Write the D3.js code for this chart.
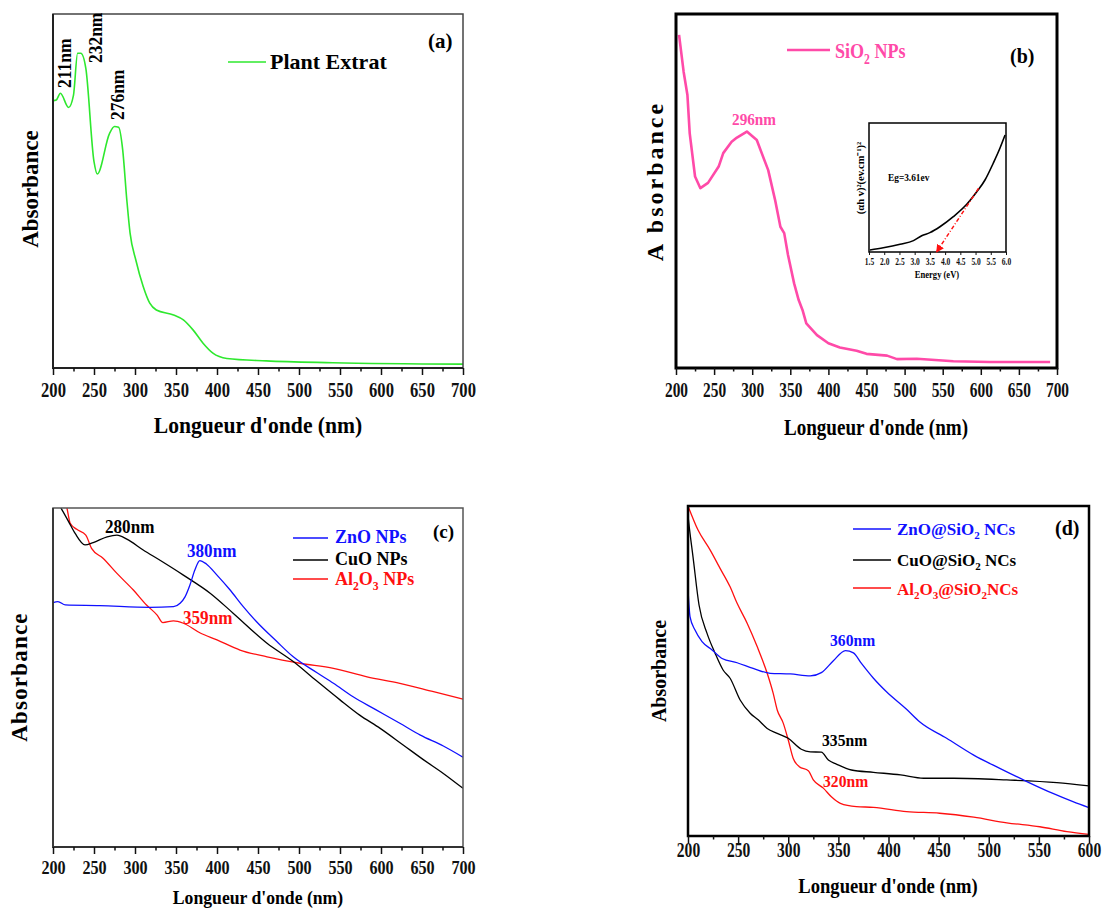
<!DOCTYPE html>
<html><head><meta charset="utf-8">
<script src="https://cdn.jsdelivr.net/npm/d3@7"></script>
<style>body{margin:0;background:#fff}</style>
</head><body>
<svg id="chart" width="1106" height="909"></svg>
<script>
// ---------------- DATA ----------------
const ticks700 = [200,250,300,350,400,450,500,550,600,650,700];
const ticks600 = [200,250,300,350,400,450,500,550,600];
const insetTicks = [1.5,2.0,2.5,3.0,3.5,4.0,4.5,5.0,5.5,6.0];

// (a) Plant extract
const plantNm  = [200,204,209,219,225,230,234,240,250,254,269,275,280,285,290,294,301,310,318,326,347,359,371,383,395,412,460,541,700];
const plantAbs = [0.755,0.757,0.776,0.736,0.771,0.889,0.889,0.847,0.583,0.548,0.663,0.682,0.680,0.616,0.475,0.381,0.305,0.230,0.183,0.164,0.150,0.136,0.107,0.070,0.042,0.027,0.020,0.015,0.011];
const plantPeaks = ["211nm","232nm","276nm"];

// (b) SiO2 NPs
const sio2Nm  = [204,210,215,218,225,232,242,256,262,273,280,293,306,321,330,337,342,347,355,361,366,371,385,400,415,437,450,477,490,516,564,612,691];
const sio2Abs = [0.941,0.837,0.771,0.663,0.541,0.508,0.523,0.569,0.607,0.639,0.651,0.668,0.644,0.559,0.475,0.399,0.381,0.319,0.239,0.192,0.164,0.126,0.093,0.070,0.058,0.049,0.040,0.035,0.025,0.026,0.019,0.017,0.017];
// inset Tauc plot
const insetE = [1.53,1.97,2.52,2.96,3.23,3.50,3.83,4.27,4.71,5.04,5.31,5.58,5.80,5.97];
const insetY = [0.016,0.033,0.060,0.088,0.126,0.150,0.196,0.274,0.370,0.467,0.558,0.688,0.804,0.907];
const tangentE = [5.10,3.72];
const tangentY = [0.494,0.0];

// (c) NPs
const znoNm  = [200,206,215,257,318,347,355,361,367,373,379,387,400,416,432,448,473,493,522,542,566,593,623,648,676,700];
const znoAbs = [0.721,0.724,0.714,0.712,0.707,0.709,0.719,0.738,0.773,0.817,0.845,0.835,0.802,0.758,0.709,0.665,0.606,0.561,0.514,0.483,0.443,0.406,0.365,0.330,0.298,0.265];
const cuoNm  = [205,210,219,227,239,249,266,278,290,310,331,359,392,420,461,493,521,550,574,599,627,652,676,700];
const cuoAbs = [1.02,0.999,0.960,0.925,0.891,0.898,0.915,0.920,0.908,0.876,0.845,0.802,0.748,0.689,0.601,0.547,0.491,0.434,0.389,0.350,0.301,0.257,0.217,0.173];
const alNm  = [213,217,221,229,240,247,261,278,298,314,327,334,347,359,379,400,428,461,501,542,583,623,664,700];
const alAbs = [1.04,1.0,0.955,0.937,0.920,0.881,0.852,0.807,0.758,0.714,0.684,0.662,0.667,0.660,0.632,0.611,0.581,0.561,0.542,0.527,0.502,0.483,0.458,0.436];

// (d) NCs
const znoSiNm  = [200,202,207,214,224,234,249,265,282,302,322,333,345,357,365,373,385,398,418,431,458,485,511,538,564,584,600];
const znoSiAbs = [0.748,0.665,0.624,0.589,0.564,0.538,0.525,0.508,0.493,0.491,0.485,0.495,0.531,0.562,0.555,0.523,0.478,0.437,0.384,0.346,0.296,0.245,0.205,0.165,0.129,0.104,0.086];
const cuoSiNm  = [200,201.5,205,211,219,227,235,242,252,262,270,279,289,300,313,322,333,340,348,363,385,412,435,465,518,568,600];
const cuoSiAbs = [0.97,0.93,0.846,0.700,0.614,0.554,0.503,0.478,0.412,0.372,0.352,0.326,0.311,0.296,0.263,0.255,0.254,0.230,0.218,0.200,0.193,0.185,0.175,0.175,0.170,0.162,0.152];
const alSiNm  = [200,210,222,232,242,249,259,269,279,285,289,295,300,305,311,320,325,335,343,352,368,385,418,451,485,518,551,578,600];
const alSiAbs = [1.0,0.927,0.867,0.811,0.755,0.705,0.645,0.574,0.493,0.432,0.382,0.342,0.291,0.235,0.210,0.198,0.170,0.145,0.119,0.099,0.089,0.087,0.074,0.069,0.057,0.040,0.028,0.013,0.005];

const xTitle = "Longueur d'onde (nm)";
const yTitle = "Absorbance";

// ---------------- DRAWING ----------------
const FONT = '"Liberation Serif","Times New Roman",Times,serif';
const svg = d3.select('#chart');
const GREEN = '#2ee82e', PINK = '#ff4aa8', BLUE = '#1010ff', RED = '#ff1010';

function rich(t, str, size) {
  const parts = str.split(/(_\d)/).filter(p => p !== '');
  let shifted = false;
  parts.forEach(p => {
    if (p[0] === '_') {
      t.append('tspan').attr('font-size', size * 0.65).attr('dy', size * 0.25).text(p.slice(1));
      shifted = true;
    } else {
      const ts = t.append('tspan').text(p);
      if (shifted) { ts.attr('dy', -size * 0.25); shifted = false; }
    }
  });
}
function txt(parent, x, y, str, o) {
  const gg = parent.append('g').attr('transform',
    `translate(${x},${y})${o.rotate ? ` rotate(${o.rotate})` : ''} scale(${o.sx || 1},1)`);
  const t = gg.append('text').attr('font-family', FONT).attr('font-weight', 'bold')
    .attr('font-size', o.size).attr('fill', o.color || '#000')
    .attr('text-anchor', o.anchor || 'start').attr('letter-spacing', o.ls || 0);
  rich(t, str, o.size);
  return t;
}

function panel(c) {
  const g = svg.append('g');
  const x = d3.scaleLinear().domain(c.xDomain).range([c.left, c.right]);
  const y = d3.scaleLinear().domain(c.yDomain || [0, 1]).range([c.bottom, c.top]);
  const id = 'clip_' + c.name;
  svg.append('clipPath').attr('id', id).append('rect')
    .attr('x', c.left).attr('y', c.top).attr('width', c.right - c.left).attr('height', c.bottom - c.top);
  c.series.forEach(s => {
    g.append('path').datum(d3.zip(s.x, s.y))
      .attr('clip-path', `url(#${id})`)
      .attr('fill', 'none').attr('stroke', s.color).attr('stroke-width', s.w)
      .attr('stroke-linejoin', 'round')
      .attr('d', d3.line().x(d => x(d[0])).y(d => y(d[1])).curve(s.curve || d3.curveLinear));
  });
  g.append('rect').attr('x', c.left).attr('y', c.top)
    .attr('width', c.right - c.left).attr('height', c.bottom - c.top)
    .attr('fill', 'none').attr('stroke', c.frameColor).attr('stroke-width', c.frameW);
  if (c.axisW) {
    g.append('path').attr('d', `M${c.left},${c.top}V${c.bottom}H${c.right}`)
      .attr('fill', 'none').attr('stroke', c.axisColor || '#111').attr('stroke-width', c.axisW);
  }
  const pad = c.tickBaseline - c.bottom - c.tickLen - 0.71 * c.tickSize;
  const ax = g.append('g').attr('transform', `translate(0,${c.bottom})`)
    .call(d3.axisBottom(x).tickValues(c.ticks).tickSize(c.tickLen).tickPadding(pad)
      .tickFormat(c.tickFormat || d3.format('d')));
  ax.select('.domain').remove();
  ax.selectAll('line').attr('stroke', c.tickColor || '#111').attr('stroke-width', c.tickW || 1.5);
  ax.selectAll('text').attr('font-family', FONT).attr('font-weight', 'bold')
    .attr('font-size', c.tickSize).attr('fill', '#111')
    .attr('transform', `scale(${c.tickSx},1)`);
  if (c.minor) {
    const mx = g.append('g').attr('transform', `translate(0,${c.bottom})`)
      .call(d3.axisBottom(x).tickValues(c.minor).tickSize(c.tickLen / 2).tickFormat(''));
    mx.select('.domain').remove();
    mx.selectAll('line').attr('stroke', c.tickColor || '#111').attr('stroke-width', c.tickW || 1.5);
  }
  return { g, x, y };
}
const minors = (lo, hi) => d3.range(lo + 25, hi, 50);

// ---------- (a) ----------
const A = panel({
  name: 'a', left: 53, right: 463, top: 14, bottom: 368, xDomain: [200, 700],
  ticks: ticks700, minor: minors(200, 700), tickLen: 7, tickSize: 20, tickSx: 0.83, tickBaseline: 397,
  frameColor: '#444', frameW: 1.5, axisW: 2, axisColor: '#222',
  series: [{ x: plantNm, y: plantAbs, color: GREEN, w: 1.6, curve: d3.curveMonotoneX }]
});
txt(A.g, 71, 88, plantPeaks[0], { size: 18, rotate: -90, sx: 0.97 });
txt(A.g, 102, 63, plantPeaks[1], { size: 18, rotate: -90, sx: 0.97 });
txt(A.g, 124, 120, plantPeaks[2], { size: 18, rotate: -90, sx: 0.97 });
A.g.append('line').attr('x1', 228).attr('x2', 266).attr('y1', 62).attr('y2', 62).attr('stroke', GREEN).attr('stroke-width', 1.6);
txt(A.g, 270, 69, 'Plant Extrat', { size: 22 });
txt(A.g, 428, 48, '(a)', { size: 21 });
txt(A.g, 258, 433, xTitle, { size: 23, anchor: 'middle', sx: 0.94 });
txt(A.g, 38, 189, yTitle, { size: 23, anchor: 'middle', rotate: -90 });

// ---------- (b) ----------
const B = panel({
  name: 'b', left: 676, right: 1057, top: 14, bottom: 368, xDomain: [200, 700],
  ticks: ticks700, minor: minors(200, 700), tickLen: 7, tickSize: 20, tickSx: 0.77, tickBaseline: 397,
  frameColor: '#000', frameW: 3,
  series: [{ x: sio2Nm, y: sio2Abs, color: PINK, w: 2.6 }]
});
B.g.append('line').attr('x1', 787).attr('x2', 830).attr('y1', 50).attr('y2', 50).attr('stroke', PINK).attr('stroke-width', 2.6);
txt(B.g, 835, 58, 'SiO_2 NPs', { size: 22, sx: 0.82, color: PINK });
txt(B.g, 1010, 63, '(b)', { size: 20 });
txt(B.g, 754, 125, '296nm', { size: 17.5, anchor: 'middle', sx: 0.87, color: PINK });
txt(B.g, 876, 435, xTitle, { size: 23, anchor: 'middle', sx: 0.83 });
txt(B.g, 663, 181, 'A bsorbance', { size: 24, anchor: 'middle', rotate: -90, ls: 3 });

// inset
const I = panel({
  name: 'inset', left: 869, right: 1006, top: 123, bottom: 252, xDomain: [1.5, 6.0],
  ticks: insetTicks, tickLen: 3, tickSize: 10, tickSx: 0.75, tickBaseline: 265, tickW: 1,
  tickFormat: d3.format('.1f'),
  frameColor: '#000', frameW: 1.5,
  series: [{ x: insetE, y: insetY, color: '#000', w: 1.6, curve: d3.curveMonotoneX }]
});
svg.append('defs').append('marker').attr('id', 'arrowR').attr('viewBox', '0 0 10 10')
  .attr('refX', 9).attr('refY', 5).attr('markerWidth', 8).attr('markerHeight', 8).attr('orient', 'auto')
  .attr('markerUnits', 'userSpaceOnUse')
  .append('path').attr('d', 'M0,0L10,5L0,10Z').attr('fill', RED);
I.g.append('path').datum(d3.zip(tangentE, tangentY))
  .attr('fill', 'none').attr('stroke', RED).attr('stroke-width', 1.5).attr('stroke-dasharray', '4,2,1,2')
  .attr('marker-end', 'url(#arrowR)')
  .attr('d', d3.line().x(d => I.x(d[0])).y(d => I.y(d[1])));
txt(I.g, 888, 181, 'Eg=3.61ev', { size: 11, sx: 0.85 });
txt(I.g, 937, 278, 'Energy (eV)', { size: 9.5, anchor: 'middle', sx: 0.9 });
txt(I.g, 864, 178, '(αh v)²(ev.cm⁻¹)²', { size: 10.5, anchor: 'middle', rotate: -90, sx: 1 });

// ---------- (c) ----------
const C = panel({
  name: 'c', left: 53, right: 463, top: 508, bottom: 847, xDomain: [200, 700],
  ticks: ticks700, minor: minors(200, 700), tickLen: 7, tickSize: 19, tickSx: 0.85, tickBaseline: 874,
  frameColor: '#555', frameW: 1.5, axisW: 1.8, axisColor: '#333',
  series: [
    { x: alNm, y: alAbs, color: RED, w: 1.3, curve: d3.curveMonotoneX },
    { x: cuoNm, y: cuoAbs, color: '#000', w: 1.3, curve: d3.curveMonotoneX },
    { x: znoNm, y: znoAbs, color: BLUE, w: 1.3, curve: d3.curveMonotoneX }
  ]
});
txt(C.g, 105, 533, '280nm', { size: 19, sx: 0.9 });
txt(C.g, 187, 557, '380nm', { size: 19, sx: 0.9, color: BLUE });
txt(C.g, 183, 624, '359nm', { size: 19, sx: 0.9, color: RED });
const legC = [['ZnO NPs', BLUE, 538, 543], ['CuO NPs', '#000', 560, 565], ['Al_2O_3 NPs', RED, 579, 585]];
legC.forEach(([t, col, ly, ty]) => {
  C.g.append('line').attr('x1', 293).attr('x2', 328).attr('y1', ly).attr('y2', ly).attr('stroke', col).attr('stroke-width', 1.3);
  txt(C.g, 335, ty, t, { size: 18, color: col });
});
txt(C.g, 433, 538, '(c)', { size: 19 });
txt(C.g, 258, 904, xTitle, { size: 19, anchor: 'middle', sx: 0.93 });
txt(C.g, 27, 677, yTitle, { size: 23, anchor: 'middle', rotate: -90, ls: 1.2 });

// ---------- (d) ----------
const D = panel({
  name: 'd', left: 688, right: 1089, top: 506, bottom: 836, xDomain: [200, 600],
  ticks: ticks600, minor: minors(200, 600), tickLen: 7, tickSize: 20, tickSx: 0.78, tickBaseline: 857,
  frameColor: '#000', frameW: 2.5,
  series: [
    { x: alSiNm, y: alSiAbs, color: RED, w: 1.3, curve: d3.curveMonotoneX },
    { x: cuoSiNm, y: cuoSiAbs, color: '#000', w: 1.3, curve: d3.curveMonotoneX },
    { x: znoSiNm, y: znoSiAbs, color: BLUE, w: 1.3, curve: d3.curveMonotoneX }
  ]
});
txt(D.g, 830, 646, '360nm', { size: 17, sx: 0.92, color: BLUE });
txt(D.g, 822, 746, '335nm', { size: 17, sx: 0.92 });
txt(D.g, 823, 787, '320nm', { size: 17, sx: 0.92, color: RED });
const legD = [['ZnO@SiO_2 NCs', BLUE, 529, 535], ['CuO@SiO_2 NCs', '#000', 560, 566], ['Al_2O_3@SiO_2NCs', RED, 588, 595]];
legD.forEach(([t, col, ly, ty]) => {
  D.g.append('line').attr('x1', 853).attr('x2', 891).attr('y1', ly).attr('y2', ly).attr('stroke', col).attr('stroke-width', 1.3);
  txt(D.g, 897, ty, t, { size: 17, color: col });
});
txt(D.g, 1055, 535, '(d)', { size: 20 });
txt(D.g, 888, 893, xTitle, { size: 20, anchor: 'middle', sx: 0.93 });
txt(D.g, 666, 671, yTitle, { size: 20, anchor: 'middle', rotate: -90 });
</script>
</body></html>
